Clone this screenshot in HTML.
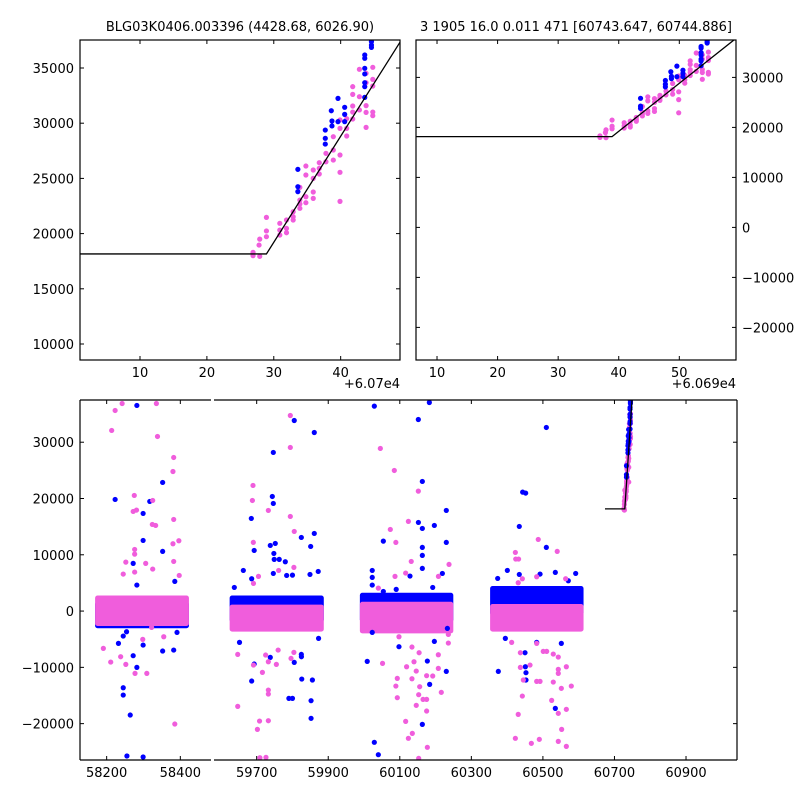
<!DOCTYPE html>
<html><head><meta charset="utf-8">
<style>
html,body{margin:0;padding:0;background:#fff;}
svg{display:block;font-family:"DejaVu Sans","Liberation Sans",sans-serif;font-size:13px;}
</style></head>
<body>
<svg id="chart" width="800" height="800" viewBox="0 0 800 800" xmlns="http://www.w3.org/2000/svg">
<rect width="800" height="800" fill="#fff"/>
<text x="240" y="31" text-anchor="middle">BLG03K0406.003396 (4428.68, 6026.90)</text>
<text x="576" y="31" text-anchor="middle">3 1905 16.0 0.011 471 [60743.647, 60744.886]</text>
<text x="400" y="388" text-anchor="end">+6.07e4</text>
<text x="736" y="388" text-anchor="end">+6.069e4</text>
<g id="layer"></g>
</svg>
<script>
// ---- data ----
const burstPinkDays = [60726.9,60726.9,60727.8,60727.9,60727.9,60728.9,60728.9,60728.9,60730.9,60730.9,60730.9,60731.9,60731.9,60731.9,60732.9,60732.9,60732.9,60733.9,60733.9,60733.9,60733.9,60734.8,60734.8,60734.8,60734.8,60735.9,60735.9,60735.9,60735.9,60736.8,60736.8,60736.8,60737.8,60737.8,60738.9,60738.9,60738.9,60739.9,60739.9,60739.9,60739.9,60739.9,60740.9,60740.9,60740.9,60741.8,60741.8,60741.8,60741.8,60741.8,60742.8,60742.8,60742.8,60743.8,60743.8,60743.8,60743.8,60743.8,60744.8,60744.8,60744.8,60744.8,60744.8];
const burstPinkFlux = [18300,18000,18960,19500,17940,21470,20240,19720,20930,20320,19870,21230,20470,20080,21980,21530,21230,23040,22680,22290,24190,26120,25310,23340,22800,25760,25000,23770,23190,26420,25910,25400,27270,26510,28780,27570,26660,30290,29530,27120,25550,22920,30410,29530,28840,33310,32610,31560,31010,30380,32400,31200,34880,34520,33670,31590,30980,29620,35060,33970,33370,31010,30680];
const burstBlueDays = [60733.6,60733.6,60733.6,60737.7,60737.7,60737.7,60738.6,60738.7,60738.7,60739.6,60739.6,60740.6,60740.6,60740.6,60743.6,60743.6,60743.6,60743.6,60743.6,60743.6,60743.6,60744.6,60744.6,60744.6];
const burstBlueFlux = [25820,24250,23800,29380,28630,28110,31130,30200,29750,32250,30140,31440,30800,30140,36180,35880,34970,34460,33670,33310,32340,37390,37080,36870];

const modelDays = [60673.5, 60728.9, 60749.1];
const modelFlux = [18160, 18160, 37560];

const bandStart = [58174,58174,59630,59630,59994,59994,60358,60358];
const bandEnd   = [58418,58418,59882,59882,60244,60244,60608,60608];
const bandLo    = [-2700,-2300,-1600,-3300,-1600,-3600,-400,-3300];
const bandHi    = [1300,2400,2400,800,2900,1300,4100,900];
const bandColor = ["b","p","b","p","b","p","b","p"];

const blueDays = [58282,58223,58299,58317,58352,58299,58352,58272,58385,58282,58232,58245,58245,58264,58255,58299,58272,58282,58299,58352,58382,58391,58245,58254,
59685,59693,59662.7,59686,59637.5,59746.5,59743.7,59746.5,59738,59752,59748,59749,59763,59780,59746.5,59805,59861,59824.8,59861,59850.9,59872,59849,59800,59783.8,59693,59686,59652,59738,59790,59800,59826,59824.8,59825,59855.7,59852,59852,59805,59873,
60028.8,60054,60023,60023,60023,60054,60090,60009,60023,60028.8,60040,60097.7,
60182.6,60151.8,60163,60152,60163,60196.6,60230,60230,60163,60163,60163,60219,60128.5,60192,60233,60196.6,60177,60230,60183.5,60163,
60509.6,60443.4,60451.8,60434,60509.6,60400.6,60434,60534.7,60591.6,60492,60373.6,60571,60395,60375.4,60450,60451,60452.7,60452.7,60534.7,60551.5,60482.6];
const blueFlux = [36530,19830,17350,19480,22850,12550,10600,8470,5270,4620,-5740,-13620,-14920,-18470,-25750,-25930,-7930,-10000,-6040,-7100,-6930,-3790,-4440,-3670,
16460,10770,7220,5740,4200,28180,20360,19120,11660,12020,10240,9180,9180,8760,6690,33860,31730,13080,13790,11480,7040,6510,6390,6330,-9410,-12430,-5560,-8230,-15510,-15510,-12080,-7700,-8110,-12250,-15920,-19060,-9120,-4850,
36410,12430,7220,5980,4620,3490,3850,-8940,-3790,-23320,-25520,-6330,
37060,34040,23030,15750,14680,15210,17880,12200,11310,9890,7580,6690,6220,4200,-3080,-5390,-8880,-10720,-13020,-20130,
32620,21130,20960,15040,11310,7220,6510,6870,6690,6570,5800,5390,-4850,-10720,-7400,-9890,-10950,-12250,-17290,-5740,-5560];

const pinkDays = [58213.6,58223,58242,58335,58338,58275,58281,58272,58325,58333,58324,58382,58380,58382,58380,58276,58276,58396,58382,58306,58397,58325,58252,58245,58276,58191,58211,58238,58252,58277,58309,58298,58385,58355,58322,
59689.7,59688,59690.6,59705,59691,59732.6,59761.4,59794,59794,59794,59805,59804,59647,59702,59708,59709,59726,59732.6,59732.6,59732.6,59732.6,59716,59691,59647,59755,59760,59725,59804,59796,
60045.6,60084.7,60073.5,60089,60086.6,60040,60051.8,60093,60089,60093,60097.7,
60151.8,60124,60237.6,60132,60116.4,60208,60235.7,60235.7,60207.7,60134,60154,60119,60139.7,60146,60192,60175,60207.7,60134,60155.6,60216,60152.8,60165,60175,60175,60146,60116.4,60135,60124,60152.8,60177,
60487,60540,60423,60424,60432,60482.6,60442.5,60431,60563.6,60412.7,60437,60445.3,60437,60464,60482.6,60482.6,60492,60501,60510.5,60529,60543,60543,60543,60565.5,60529,60551.5,60579.4,60442.5,60524.5,60543,60565.5,60431,60552.4,60423,60467.7,60490,60543,60565.5];
const pinkFlux = [32090,35640,36880,36880,31020,20540,17940,17700,19650,15210,15390,27290,24800,16280,11960,10950,10120,12490,8820,8470,6330,7460,8700,6570,6930,-6630,-9060,-8110,-9470,-11070,-11070,-5030,-20070,-4560,-2900,
22320,19650,12200,6160,4910,17880,7220,34750,29070,16810,14150,7760,-16930,-21020,-19540,-26050,-25990,-19480,-14030,-14740,-9000,-10890,-9590,-7700,-9470,-6930,-7810,-7340,-8410,
28890,24980,14500,12200,6160,4080,-9290,-15390,-13320,-11960,-4560,
21310,15930,8290,8820,6750,6160,-4140,-5680,-7760,-6390,-7400,-9890,-9000,-10660,-11540,-11480,-10180,-12020,-13440,-14440,-14860,-15690,-15690,-17760,-16750,-19600,-21730,-22610,-26170,-24210,
12730,10600,10420,9240,9240,6100,5740,5030,5740,-5560,-7400,-12250,-10000,-9590,-5740,-12490,-12490,-7160,-7160,-7640,-8170,-10360,-11070,-9890,-12610,-13730,-13320,-15100,-15870,-18170,-17460,-18350,-21020,-22610,-23500,-22790,-23150,-24040];

const tlXTicks = [60710,60720,60730,60740];
const tlXLabels = ["10","20","30","40"];
const tlYTicks = [10000,15000,20000,25000,30000,35000];
const trXTicks = [60700,60710,60720,60730,60740];
const trXLabels = ["10","20","30","40","50"];
const trYTicks = [-20000,-10000,0,10000,20000,30000];
const bYTicks = [-20000,-10000,0,10000,20000,30000];
const blXTicks = [58200,58400];
const brXTicks = [59700,59900,60100,60300,60500,60700,60900];

const BLUE = "#0000ff", PINK = "#f05ddc";
const NS = "http://www.w3.org/2000/svg";
const layer = document.getElementById("layer");
function el(tag, attrs, parent){ const e=document.createElementNS(NS,tag); for(const k in attrs) e.setAttribute(k,attrs[k]); (parent||layer).appendChild(e); return e; }
function fmt(v){ return v<0 ? "\u2212"+(-v) : String(v); }

function panel(name, px0, px1, py0, py1, xlim, ylim){
  const sx = v => px0 + (v - xlim[0])/(xlim[1]-xlim[0])*(px1-px0);
  const sy = v => py1 - (v - ylim[0])/(ylim[1]-ylim[0])*(py1-py0);
  const cp = el("clipPath",{id:"clip-"+name});
  el("rect",{x:px0,y:py0,width:px1-px0,height:py1-py0},cp);
  const g = el("g",{"clip-path":"url(#clip-"+name+")"});
  
  
  return {sx,sy,g,px0,px1,py0,py1};
}
function drawBands(P){
  for(let i=0;i<bandStart.length;i++){
    const x0=P.sx(bandStart[i]), x1=P.sx(bandEnd[i]), y0=P.sy(bandHi[i]), y1=P.sy(bandLo[i]);
    const r = el("rect",{x:x0-2,y:y0-2,width:x1-x0+4,height:y1-y0+4,rx:2.5,fill:bandColor[i]==="b"?BLUE:PINK},P.g);
    
    
  }
}
function drawPts(P, days, flux, color, label){
  for(let i=0;i<days.length;i++){
    const c = el("circle",{cx:P.sx(days[i]),cy:P.sy(flux[i]),r:2.6,fill:color},P.g);
    
    
  }
}
function drawModel(P){
  const d = modelDays.map((v,i)=>(i?"L":"M")+P.sx(v)+","+P.sy(modelFlux[i])).join(" ");
  const p = el("path",{d:d,fill:"none",stroke:"#000","stroke-width":1.3},P.g);
  
  
}
function spine(x1,y1,x2,y2,name){
  const l = el("line",{x1,y1,x2,y2,stroke:"#000","stroke-width":1.2});
  
  
}
function xTicks(P, ticks, labels, name){
  ticks.forEach((t,i)=>{
    const x=P.sx(t);
    if(x<P.px0-0.5||x>P.px1+0.5) return;
    el("line",{x1:x,y1:P.py1,x2:x,y2:P.py1-4,stroke:"#000"});
    el("line",{x1:x,y1:P.py0,x2:x,y2:P.py0+4,stroke:"#000"});
    if(labels){
      const tx = el("text",{x:x,y:P.py1+17,"text-anchor":"middle"});
      tx.textContent = labels[i];
      
      
    }
  });
}
function yTicks(P, ticks, side, labelSide, name, both){
  ticks.forEach(t=>{
    const y=P.sy(t);
    if(side!=="right"||both) el("line",{x1:P.px0,y1:y,x2:P.px0+4,y2:y,stroke:"#000"});
    if(side!=="left"||both) el("line",{x1:P.px1,y1:y,x2:P.px1-4,y2:y,stroke:"#000"});
    if(labelSide){
      const tx = labelSide==="left" ? el("text",{x:P.px0-6,y:y+5,"text-anchor":"end"}) : el("text",{x:P.px1+6,y:y+5,"text-anchor":"start"});
      tx.textContent = fmt(t);
      
      
    }
  });
}
function burst(P){
  drawPts(P,burstPinkDays,burstPinkFlux,PINK,'burst-pink-point');
  drawPts(P,burstBlueDays,burstBlueFlux,BLUE,'burst-blue-point');
  drawModel(P);
}

// top-left zoom
const TL = panel("left-zoom",80,400,40,360,[60701.03,60748.87],[8551,37536]);
burst(TL);
xTicks(TL,tlXTicks,tlXLabels,"left-zoom-x"); yTicks(TL,tlYTicks,"both","left","left-zoom-y",true);
el("rect",{x:80,y:40,width:320,height:320,fill:"none",stroke:"#000","stroke-width":1.2});

// top-right zoom
const TR = panel("right-zoom",416,736,40,360,[60696.53,60749.36],[-26520,37480]);
burst(TR);
xTicks(TR,trXTicks,trXLabels,"right-zoom-x"); yTicks(TR,trYTicks,"both","right","right-zoom-y",true);
el("rect",{x:416,y:40,width:320,height:320,fill:"none",stroke:"#000","stroke-width":1.2});

// bottom full light curve (broken axis)
const YL=[-26460,37500];
const BL = panel("full-lc-early",80,211,400,760,[58127.6,58483.3],YL);
const BR = panel("full-lc-late",214,737,400,760,[59580.7,61042.5],YL);
[BL,BR].forEach(P=>{
  drawBands(P);
  drawPts(P,blueDays,blueFlux,BLUE,'blue-point');
  drawPts(P,pinkDays,pinkFlux,PINK,'pink-point');
  burst(P);
});
xTicks(BL,blXTicks,blXTicks.map(String),"full-lc-x");
xTicks(BR,brXTicks,brXTicks.map(String),"full-lc-x");
yTicks(BL,bYTicks,"left","left","full-lc-y",false);
yTicks(BR,bYTicks,"right",null,"full-lc-y",false);
spine(80,400,211,400,"early-top-spine"); spine(80,760,211,760,"early-bottom-spine"); spine(80,400,80,760,"early-left-spine");
spine(214,400,737,400,"late-top-spine"); spine(214,760,737,760,"late-bottom-spine"); spine(737,400,737,760,"late-right-spine");
</script>
</body></html>
